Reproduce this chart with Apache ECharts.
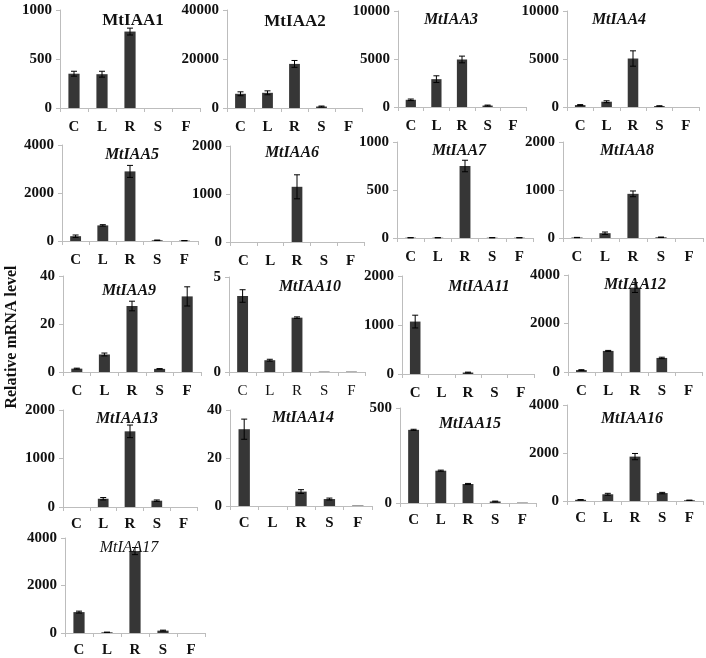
<!DOCTYPE html>
<html>
<head>
<meta charset="utf-8">
<script src="https://cdn.jsdelivr.net/npm/echarts@6/dist/echarts.min.js"></script>
<style>
html,body{margin:0;padding:0;background:#fff;}
#chart{width:706px;height:658px;}
</style>
</head>
<body>
<div id="chart"></div>
<script>
const categories = ['C', 'L', 'R', 'S', 'F'];
const geneNames = ['MtIAA1','MtIAA2','MtIAA3','MtIAA4','MtIAA5','MtIAA6','MtIAA7','MtIAA8','MtIAA9','MtIAA10','MtIAA11','MtIAA12','MtIAA13','MtIAA14','MtIAA15','MtIAA16','MtIAA17'];
const yAxisLabel = 'Relative mRNA level';

const iaa1 = [350, 345, 780, 0, 0];          const iaa1Err = [25, 30, 35, 0, 0];
const iaa2 = [5800, 6200, 18000, 600, 0];    const iaa2Err = [800, 800, 1400, 200, 0];
const iaa3 = [750, 2900, 4950, 150, 0];      const iaa3Err = [80, 350, 350, 50, 0];
const iaa4 = [200, 550, 5050, 100, 0];       const iaa4Err = [50, 100, 800, 30, 0];
const iaa5 = [200, 650, 2900, 30, 15];       const iaa5Err = [50, 30, 250, 10, 5];
const iaa6 = [0, 0, 1150, 0, 0];             const iaa6Err = [0, 0, 250, 0, 0];
const iaa7 = [3, 3, 750, 3, 3];              const iaa7Err = [1, 1, 60, 1, 1];
const iaa8 = [10, 100, 920, 15, 0];          const iaa8Err = [3, 25, 60, 5, 0];
const iaa9 = [1.4, 7.3, 27.5, 1.3, 31.5];    const iaa9Err = [0.2, 0.6, 2, 0.1, 4];
const iaa10 = [4.0, 0.62, 2.86, 0.02, 0.02]; const iaa10Err = [0.33, 0.05, 0.04, 0, 0];
const iaa11 = [1070, 0, 30, 0, 0];           const iaa11Err = [130, 0, 8, 0, 0];
const iaa12 = [80, 870, 3480, 580, 0];       const iaa12Err = [15, 20, 200, 30, 0];
const iaa13 = [0, 170, 1560, 130, 0];        const iaa13Err = [0, 25, 130, 15, 0];
const iaa14 = [32, 0, 6.0, 2.9, 0.2];        const iaa14Err = [4.2, 0, 0.8, 0.4, 0];
const iaa15 = [385, 170, 100, 8, 2];         const iaa15Err = [3, 3, 3, 2, 0];
const iaa16 = [50, 280, 1850, 330, 30];      const iaa16Err = [10, 40, 130, 30, 5];
const iaa17 = [880, 30, 3450, 100, 0];       const iaa17Err = [40, 5, 150, 20, 0];

const yMaxes = [1000, 40000, 10000, 10000, 4000, 2000, 1000, 2000, 40, 5, 2000, 4000, 2000, 40, 500, 4000, 4000];
const yIntervals = [500, 20000, 5000, 5000, 2000, 1000, 500, 1000, 20, 5, 1000, 2000, 1000, 20, 500, 2000, 2000];

const values = [iaa1, iaa2, iaa3, iaa4, iaa5, iaa6, iaa7, iaa8, iaa9, iaa10, iaa11, iaa12, iaa13, iaa14, iaa15, iaa16, iaa17];
const errors = [iaa1Err, iaa2Err, iaa3Err, iaa4Err, iaa5Err, iaa6Err, iaa7Err, iaa8Err, iaa9Err, iaa10Err, iaa11Err, iaa12Err, iaa13Err, iaa14Err, iaa15Err, iaa16Err, iaa17Err];

// layout: [left, top, width, height]
const layout = [
  [60, 10, 140, 98], [227, 10, 135, 98], [398, 11, 128, 96], [567, 11, 132, 96],
  [62, 145, 136, 96], [230, 146, 134, 96], [397, 142, 136, 96], [563, 142, 140, 96],
  [63, 276, 138, 96], [229, 277, 136, 95], [402, 276, 132, 98], [568, 275, 134, 97],
  [63, 410, 134, 97], [230, 410, 142, 96], [400, 408, 136, 95], [567, 405, 136, 96],
  [65, 538, 140, 95]
];
// title centers [x, y]
const titlePos = [
  [128, 17], [290, 18], [446, 17], [614, 17],
  [127, 152], [287, 150], [454, 148], [622, 148],
  [124, 288], [305, 284], [474, 284], [630, 282],
  [122, 416], [298, 415], [465, 421], [627, 416],
  [124, 545]
];

const FONT = '"Liberation Serif", "Times New Roman", serif';
const grids = [], xAxes = [], yAxes = [], series = [], titles = [];

geneNames.forEach((name, i) => {
  const [l, t, w, h] = layout[i];
  grids.push({ left: l, top: t, width: w, height: h, containLabel: false });
  const boldX = i !== 9;
  xAxes.push({
    type: 'category', gridIndex: i, data: categories,
    axisLine: { show: true, lineStyle: { color: '#bdbdbd', width: 1 } },
    axisTick: { show: true, alignWithLabel: false, length: 4, lineStyle: { color: '#bdbdbd' } },
    axisLabel: { color: '#111', fontFamily: FONT, fontWeight: boldX ? 'bold' : 'normal', fontSize: 15, margin: i < 12 ? 12 : 10 },
    splitLine: { show: false }
  });
  yAxes.push({
    type: 'value', gridIndex: i, min: 0, max: yMaxes[i], interval: yIntervals[i],
    axisLine: { show: true, lineStyle: { color: '#bdbdbd', width: 1 } },
    axisTick: { show: true, length: 4, lineStyle: { color: '#bdbdbd' } },
    axisLabel: { color: '#111', fontFamily: FONT, fontWeight: 'bold', fontSize: 15, margin: 8,
                 formatter: v => String(v) },
    splitLine: { show: false }
  });
  series.push({
    type: 'bar', xAxisIndex: i, yAxisIndex: i, data: values[i],
    barWidth: '40%',
    itemStyle: { color: '#363636' },
    silent: true, animation: false
  });
  const errData = values[i].map((v, k) => [k, v, errors[i][k]]).filter(d => d[2] > 0);
  series.push({
    type: 'custom', xAxisIndex: i, yAxisIndex: i, data: errData,
    silent: true, animation: false, z: 5,
    renderItem: function (params, api) {
      const x = api.value(0), v = api.value(1), e = api.value(2);
      const hi = api.coord([x, v + e]);
      const lo = api.coord([x, Math.max(0, v - e)]);
      const cap = 3;
      const st = { stroke: '#000', lineWidth: 1 };
      return {
        type: 'group',
        children: [
          { type: 'line', shape: { x1: hi[0], y1: hi[1], x2: lo[0], y2: lo[1] }, style: st },
          { type: 'line', shape: { x1: hi[0] - cap, y1: hi[1], x2: hi[0] + cap, y2: hi[1] }, style: st },
          { type: 'line', shape: { x1: lo[0] - cap, y1: lo[1], x2: lo[0] + cap, y2: lo[1] }, style: st }
        ]
      };
    }
  });
  const italic = i >= 2;
  titles.push({
    text: name,
    left: titlePos[i][0], top: titlePos[i][1] - 10,
    textAlign: 'center',
    textStyle: {
      fontFamily: FONT, fontSize: i < 2 ? 17 : 16,
      fontWeight: i === 16 ? 'normal' : 'bold',
      fontStyle: italic ? 'italic' : 'normal', color: '#111'
    }
  });
});

const chart = echarts.init(document.getElementById('chart'), null, { renderer: 'canvas' });
chart.setOption({
  animation: false,
  backgroundColor: '#fff',
  title: titles,
  grid: grids,
  xAxis: xAxes,
  yAxis: yAxes,
  series: series,
  graphic: [{
    type: 'text', x: 12, y: 337, rotation: Math.PI / 2,
    style: { text: yAxisLabel, fontFamily: FONT, fontWeight: 'bold', fontSize: 16, fill: '#111', textAlign: 'center', textVerticalAlign: 'middle' }
  }]
});
</script>
</body>
</html>
